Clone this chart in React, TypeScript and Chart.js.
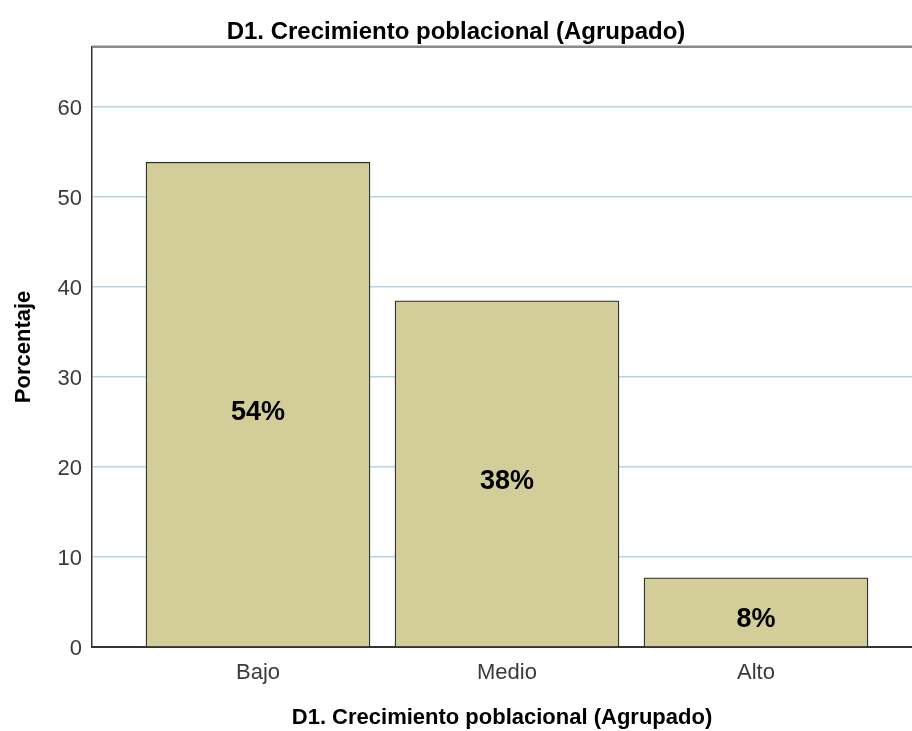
import React, { useEffect, useRef } from "react";
import { Chart, registerables } from "chart.js";

Chart.register(...registerables);

const categories = ["Bajo", "Medio", "Alto"];
const percentages = [53.85, 38.46, 7.69];
const valueLabels = ["54%", "38%", "8%"];
const yTicks = [0, 10, 20, 30, 40, 50, 60];
const chartTitle = "D1. Crecimiento poblacional (Agrupado)";
const xTitle = "D1. Crecimiento poblacional (Agrupado)";
const yTitle = "Porcentaje";

const W = 912;
const H = 731;
const SANS = "'Liberation Sans', Arial, sans-serif";

export default function App() {
  const ref = useRef<HTMLCanvasElement | null>(null);

  useEffect(() => {
    const canvas = ref.current;
    if (!canvas) return;

    const frame = {
      id: "frame",
      afterDatasetsDraw(chart: any) {
        const { ctx, chartArea } = chart;
        ctx.save();
        ctx.strokeStyle = "#8a8a8a";
        ctx.lineWidth = 2.5;
        ctx.beginPath();
        ctx.moveTo(chartArea.left, chartArea.top);
        ctx.lineTo(chartArea.right, chartArea.top);
        ctx.stroke();
        ctx.restore();
      },
    };

    const barLabels = {
      id: "barLabels",
      afterDatasetsDraw(chart: any) {
        const { ctx } = chart;
        const meta = chart.getDatasetMeta(0);
        ctx.save();
        ctx.font = "bold 27px " + SANS;
        ctx.fillStyle = "#000";
        ctx.textAlign = "center";
        ctx.textBaseline = "middle";
        meta.data.forEach((el: any, i: number) => {
          const y = (el.y + el.base) / 2 + 8;
          ctx.fillText(valueLabels[i], el.x, y);
        });
        ctx.restore();
      },
    };

    const chart = new Chart(canvas, {
      type: "bar",
      data: {
        datasets: [
          {
            data: categories.map((c, i) => ({ x: i + 1, y: percentages[i] })),
            backgroundColor: "#D3CE99",
            borderColor: "#2e2e2e",
            borderWidth: 1.3,
            barThickness: 224,
          } as any,
        ],
      },
      options: {
        responsive: false,
        animation: false,
        layout: { padding: 0 },
        plugins: {
          legend: { display: false },
          tooltip: { enabled: false },
          title: {
            display: true,
            text: chartTitle,
            color: "#000",
            font: { family: SANS, size: 24, weight: "bold" },
            padding: { top: 18, bottom: 0 },
          },
        },
        scales: {
          x: {
            type: "linear",
            offset: false,
            min: 1 / 3,
            max: 3 + 156 / 249,
            grid: { display: false, drawTicks: false, offset: false },
            border: { display: true, color: "#333", width: 2 },
            afterBuildTicks(scale: any) {
              scale.ticks = categories.map((_, i) => ({ value: i + 1 }));
            },
            afterFit(scale: any) {
              scale.height = 84;
            },
            ticks: {
              autoSkip: false,
              maxRotation: 0,
              padding: 13,
              color: "#3a3a3a",
              font: { family: SANS, size: 22 },
              callback: (v: any) => categories[Math.round(Number(v)) - 1] ?? "",
            },
            title: {
              display: true,
              text: xTitle,
              color: "#000",
              font: { family: SANS, size: 22, weight: "bold" },
              padding: { top: 0, bottom: 0 },
            },
          },
          y: {
            type: "linear",
            min: 0,
            max: 60 + 60 / 9,
            afterBuildTicks(scale: any) {
              scale.ticks = yTicks.map((v) => ({ value: v }));
            },
            afterFit(scale: any) {
              scale.width = 92;
            },
            grid: {
              drawTicks: false,
              color: (ctx: any) => (ctx.tick && ctx.tick.value === 0 ? "rgba(0,0,0,0)" : "#B9D4E3"),
              lineWidth: 1.5,
            },
            border: { display: true, color: "#333", width: 1.5 },
            ticks: {
              padding: 10,
              labelOffset: 2,
              color: "#3a3a3a",
              font: { family: SANS, size: 22 },
            },
            title: {
              display: true,
              text: yTitle,
              color: "#000",
              font: { family: SANS, size: 22, weight: "bold" },
              padding: { top: 11, bottom: 0 },
            },
          },
        },
      } as any,
      plugins: [frame, barLabels],
    });

    return () => chart.destroy();
  }, []);

  return (
    <div style={{ position: "fixed", left: 0, top: 0, width: W, height: H, background: "#fff" }}>
      <canvas ref={ref} width={W} height={H} style={{ display: "block", width: W, height: H }} />
    </div>
  );
}
